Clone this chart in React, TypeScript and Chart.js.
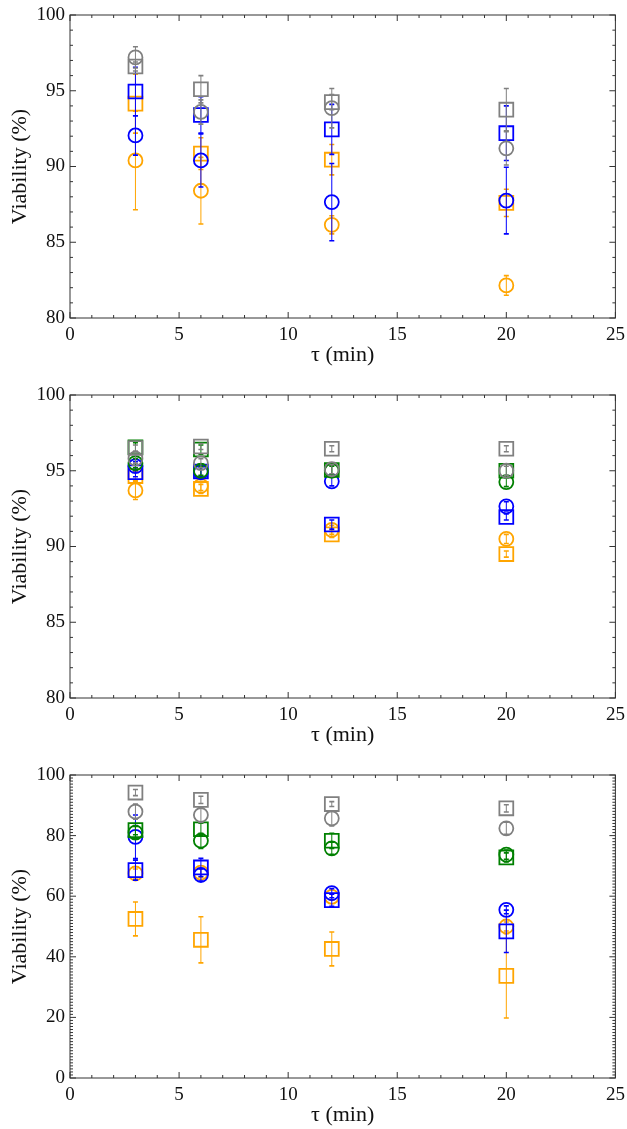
import React, { useEffect, useRef } from 'react';
import { Chart, registerables } from 'chart.js';

Chart.register(...registerables);

// ---------------- data ----------------
const TAU = [3, 6, 12, 20];
const X_TICKS = [0, 5, 10, 15, 20, 25];

// Panel 1
const P1_GRAY_SQ = [96.6, 95.1, 94.25, 93.75];
const P1_GRAY_SQ_ERR = [0.3, 0.9, 0.5, 1.4];
const P1_GRAY_CI = [97.2, 93.6, 93.85, 91.2];
const P1_GRAY_CI_ERR = [0.7, 0.8, 1.3, 1.1];
const P1_BLUE_SQ = [94.95, 93.4, 92.45, 92.2];
const P1_BLUE_SQ_ERR = [1.6, 1.2, 1.65, 1.8];
const P1_BLUE_CI = [92.05, 90.4, 87.65, 87.75];
const P1_BLUE_CI_ERR = [1.3, 1.75, 2.55, 2.2];
const P1_ORANGE_SQ = [94.15, 90.85, 90.45, 87.6];
const P1_ORANGE_SQ_ERR = [1.95, 1.05, 1.0, 0.9];
const P1_ORANGE_CI = [90.4, 88.4, 86.15, 82.15];
const P1_ORANGE_CI_ERR = [3.25, 2.2, 0.6, 0.65];

// Panel 2
const P2_GRAY_SQ = [96.5, 96.6, 96.45, 96.45];
const P2_GRAY_SQ_ERR = [0.2, 0.2, 0.2, 0.2];
const P2_GRAY_CI = [95.8, 95.5, 95.1, 95.0];
const P2_GRAY_CI_ERR = [0.3, 0.3, 0.3, 0.3];
const P2_GREEN_SQ = [96.55, 96.4, 95.05, 95.0];
const P2_GREEN_SQ_ERR = [0.3, 0.3, 0.3, 0.45];
const P2_GREEN_CI = [95.5, 95.0, 95.0, 94.25];
const P2_GREEN_CI_ERR = [0.3, 0.3, 0.3, 0.3];
const P2_BLUE_SQ = [94.9, 94.95, 91.45, 91.95];
const P2_BLUE_SQ_ERR = [0.3, 0.3, 0.3, 0.2];
const P2_BLUE_CI = [95.3, 94.9, 94.3, 92.65];
const P2_BLUE_CI_ERR = [0.3, 0.3, 0.3, 0.3];
const P2_ORANGE_SQ = [94.65, 93.8, 90.8, 89.5];
const P2_ORANGE_SQ_ERR = [0.3, 0.3, 0.2, 0.2];
const P2_ORANGE_CI = [93.7, 94.0, 91.1, 90.5];
const P2_ORANGE_CI_ERR = [0.6, 0.3, 0.3, 0.3];

// Panel 3
const P3_GRAY_SQ = [94.2, 91.8, 90.4, 89.0];
const P3_GRAY_SQ_ERR = [1.0, 1.2, 0.8, 1.2];
const P3_GRAY_CI = [87.9, 86.8, 85.7, 82.4];
const P3_GRAY_CI_ERR = [2.5, 2.5, 2.5, 2.0];
const P3_GREEN_SQ = [81.8, 82.1, 78.3, 72.8];
const P3_GREEN_SQ_ERR = [1.5, 2.0, 2.5, 1.5];
const P3_GREEN_CI = [81.0, 78.3, 75.8, 73.7];
const P3_GREEN_CI_ERR = [2.0, 2.5, 2.0, 1.5];
const P3_BLUE_SQ = [68.6, 69.5, 58.7, 48.4];
const P3_BLUE_SQ_ERR = [3.3, 3.0, 2.0, 7.0];
const P3_BLUE_CI = [79.6, 67.0, 61.0, 55.5];
const P3_BLUE_CI_ERR = [7.2, 2.0, 1.5, 1.3];
const P3_ORANGE_SQ = [52.5, 45.6, 42.6, 33.7];
const P3_ORANGE_SQ_ERR = [5.6, 7.6, 5.6, 13.9];
const P3_ORANGE_CI = [67.5, 67.8, 59.8, 50.0];
const P3_ORANGE_CI_ERR = [1.5, 1.5, 1.0, 1.5];

const GRAY = '#808080';
const BLUE = '#0000ff';
const ORANGE = '#ffa500';
const GREEN = '#008000';

const FONT = "'Liberation Serif', 'DejaVu Serif', serif";

type Series = { values: number[]; errors: number[]; color: string; shape: 'rect' | 'circle' };

const PANEL1: Series[] = [
  { values: P1_GRAY_SQ, errors: P1_GRAY_SQ_ERR, color: GRAY, shape: 'rect' },
  { values: P1_GRAY_CI, errors: P1_GRAY_CI_ERR, color: GRAY, shape: 'circle' },
  { values: P1_BLUE_SQ, errors: P1_BLUE_SQ_ERR, color: BLUE, shape: 'rect' },
  { values: P1_BLUE_CI, errors: P1_BLUE_CI_ERR, color: BLUE, shape: 'circle' },
  { values: P1_ORANGE_SQ, errors: P1_ORANGE_SQ_ERR, color: ORANGE, shape: 'rect' },
  { values: P1_ORANGE_CI, errors: P1_ORANGE_CI_ERR, color: ORANGE, shape: 'circle' },
];

const PANEL2: Series[] = [
  { values: P2_GRAY_SQ, errors: P2_GRAY_SQ_ERR, color: GRAY, shape: 'rect' },
  { values: P2_GRAY_CI, errors: P2_GRAY_CI_ERR, color: GRAY, shape: 'circle' },
  { values: P2_GREEN_SQ, errors: P2_GREEN_SQ_ERR, color: GREEN, shape: 'rect' },
  { values: P2_GREEN_CI, errors: P2_GREEN_CI_ERR, color: GREEN, shape: 'circle' },
  { values: P2_BLUE_SQ, errors: P2_BLUE_SQ_ERR, color: BLUE, shape: 'rect' },
  { values: P2_BLUE_CI, errors: P2_BLUE_CI_ERR, color: BLUE, shape: 'circle' },
  { values: P2_ORANGE_SQ, errors: P2_ORANGE_SQ_ERR, color: ORANGE, shape: 'rect' },
  { values: P2_ORANGE_CI, errors: P2_ORANGE_CI_ERR, color: ORANGE, shape: 'circle' },
];

const PANEL3: Series[] = [
  { values: P3_GRAY_SQ, errors: P3_GRAY_SQ_ERR, color: GRAY, shape: 'rect' },
  { values: P3_GRAY_CI, errors: P3_GRAY_CI_ERR, color: GRAY, shape: 'circle' },
  { values: P3_GREEN_SQ, errors: P3_GREEN_SQ_ERR, color: GREEN, shape: 'rect' },
  { values: P3_GREEN_CI, errors: P3_GREEN_CI_ERR, color: GREEN, shape: 'circle' },
  { values: P3_BLUE_SQ, errors: P3_BLUE_SQ_ERR, color: BLUE, shape: 'rect' },
  { values: P3_BLUE_CI, errors: P3_BLUE_CI_ERR, color: BLUE, shape: 'circle' },
  { values: P3_ORANGE_SQ, errors: P3_ORANGE_SQ_ERR, color: ORANGE, shape: 'rect' },
  { values: P3_ORANGE_CI, errors: P3_ORANGE_CI_ERR, color: ORANGE, shape: 'circle' },
];

// ---------------- plugins ----------------
const errorBarPlugin = {
  id: 'errorBars',
  beforeDatasetDraw(chart: any, args: any) {
    const ds = chart.data.datasets[args.index];
    const ys = chart.scales.y;
    const ctx = chart.ctx;
    ctx.save();
    ctx.strokeStyle = ds.borderColor;
    args.meta.data.forEach((pt: any, i: number) => {
      const v = ds.data[i].y;
      const e = ds.errors[i];
      const y1 = ys.getPixelForValue(v - e);
      const y2 = ys.getPixelForValue(v + e);
      ctx.lineWidth = 1;
      ctx.beginPath();
      ctx.moveTo(pt.x, y1);
      ctx.lineTo(pt.x, y2);
      ctx.stroke();
      ctx.lineWidth = 1.6;
      ctx.beginPath();
      ctx.moveTo(pt.x - 2.5, y1);
      ctx.lineTo(pt.x + 2.5, y1);
      ctx.moveTo(pt.x - 2.5, y2);
      ctx.lineTo(pt.x + 2.5, y2);
      ctx.stroke();
    });
    ctx.restore();
  },
};

const frameTicksPlugin = {
  id: 'frameTicks',
  afterDraw(chart: any, _args: any, opts: any) {
    const { ctx, chartArea } = chart;
    const { left, right, top, bottom } = chartArea;
    const xs = chart.scales.x;
    const ys = chart.scales.y;
    ctx.save();
    ctx.strokeStyle = '#333';
    ctx.lineWidth = 1;
    ctx.strokeRect(left, top, right - left, bottom - top);
    ctx.beginPath();
    for (let v = xs.min; v <= xs.max + 1e-9; v += opts.xMinor) {
      const px = xs.getPixelForValue(v);
      const major = Math.abs(v / opts.xMajor - Math.round(v / opts.xMajor)) < 1e-6;
      const len = major ? 6 : 3;
      ctx.moveTo(px, bottom);
      ctx.lineTo(px, bottom - len);
      ctx.moveTo(px, top);
      ctx.lineTo(px, top + len);
    }
    for (let v = ys.min; v <= ys.max + 1e-9; v += opts.yMinor) {
      const py = ys.getPixelForValue(v);
      const major = Math.abs(v / opts.yMajor - Math.round(v / opts.yMajor)) < 1e-6;
      const len = major ? 6 : 3;
      ctx.moveTo(left, py);
      ctx.lineTo(left + len, py);
      ctx.moveTo(right, py);
      ctx.lineTo(right - len, py);
    }
    ctx.stroke();
    ctx.restore();
  },
};

// ---------------- panel ----------------
type PanelProps = { series: Series[]; yMin: number; yMax: number; yStep: number; yMinor: number };

function Panel({ series, yMin, yMax, yStep, yMinor }: PanelProps) {
  const ref = useRef<HTMLCanvasElement | null>(null);

  useEffect(() => {
    if (!ref.current) return;
    const datasets = series.map((s) => ({
      data: TAU.map((t, i) => ({ x: t, y: s.values[i] })),
      errors: s.errors,
      borderColor: s.color,
      backgroundColor: 'rgba(0,0,0,0)',
      pointStyle: s.shape,
      pointRadius: s.shape === 'rect' ? 9.8 : 7,
      pointBorderWidth: 1.8,
      pointHoverRadius: s.shape === 'rect' ? 9.8 : 7,
      showLine: false,
    }));
    const chart = new Chart(ref.current, {
      type: 'scatter',
      data: { datasets } as any,
      plugins: [errorBarPlugin, frameTicksPlugin],
      options: {
        animation: false,
        responsive: false,
        events: [],
        layout: { padding: { top: 15, right: 9, left: 0, bottom: 0 } },
        plugins: {
          legend: { display: false },
          tooltip: { enabled: false },
          frameTicks: { xMinor: 1, xMajor: 5, yMinor, yMajor: yStep },
        } as any,
        scales: {
          x: {
            type: 'linear',
            min: 0,
            max: 25,
            afterBuildTicks: (scale: any) => {
              scale.ticks = X_TICKS.map((v) => ({ value: v }));
            },
            afterFit: (scale: any) => {
              scale.height = 62;
              scale.paddingLeft = 0;
              scale.paddingRight = 0;
            },
            grid: { display: false, drawTicks: false },
            border: { display: false },
            ticks: {
              padding: 6,
              color: '#111',
              font: { family: FONT, size: 19 },
              maxRotation: 0,
              autoSkip: false,
            },
            title: {
              display: true,
              text: 'τ (min)',
              color: '#111',
              font: { family: FONT, size: 22 },
              padding: { top: 0, bottom: 12 },
            },
          },
          y: {
            type: 'linear',
            min: yMin,
            max: yMax,
            afterFit: (scale: any) => {
              scale.width = 70;
              scale.paddingTop = 0;
              scale.paddingBottom = 0;
            },
            grid: { display: false, drawTicks: false },
            border: { display: false },
            ticks: {
              stepSize: yStep,
              padding: 5,
              color: '#111',
              font: { family: FONT, size: 19 },
            },
            title: {
              display: true,
              text: 'Viability (%)',
              color: '#111',
              font: { family: FONT, size: 22 },
              padding: { top: 7, bottom: 0 },
            },
          },
        },
      } as any,
    });
    return () => chart.destroy();
  }, [series, yMin, yMax, yStep, yMinor]);

  return <canvas ref={ref} width={627} height={380} style={{ display: 'block', width: 627, height: 380 }} />;
}

export default function App() {
  return (
    <div style={{ position: 'absolute', left: 0, top: 0, width: 627, height: 1129, background: '#fff', overflow: 'hidden' }}>
      <Panel series={PANEL1} yMin={80} yMax={100} yStep={5} yMinor={1} />
      <Panel series={PANEL2} yMin={80} yMax={100} yStep={5} yMinor={1} />
      <Panel series={PANEL3} yMin={0} yMax={100} yStep={20} yMinor={1} />
    </div>
  );
}
